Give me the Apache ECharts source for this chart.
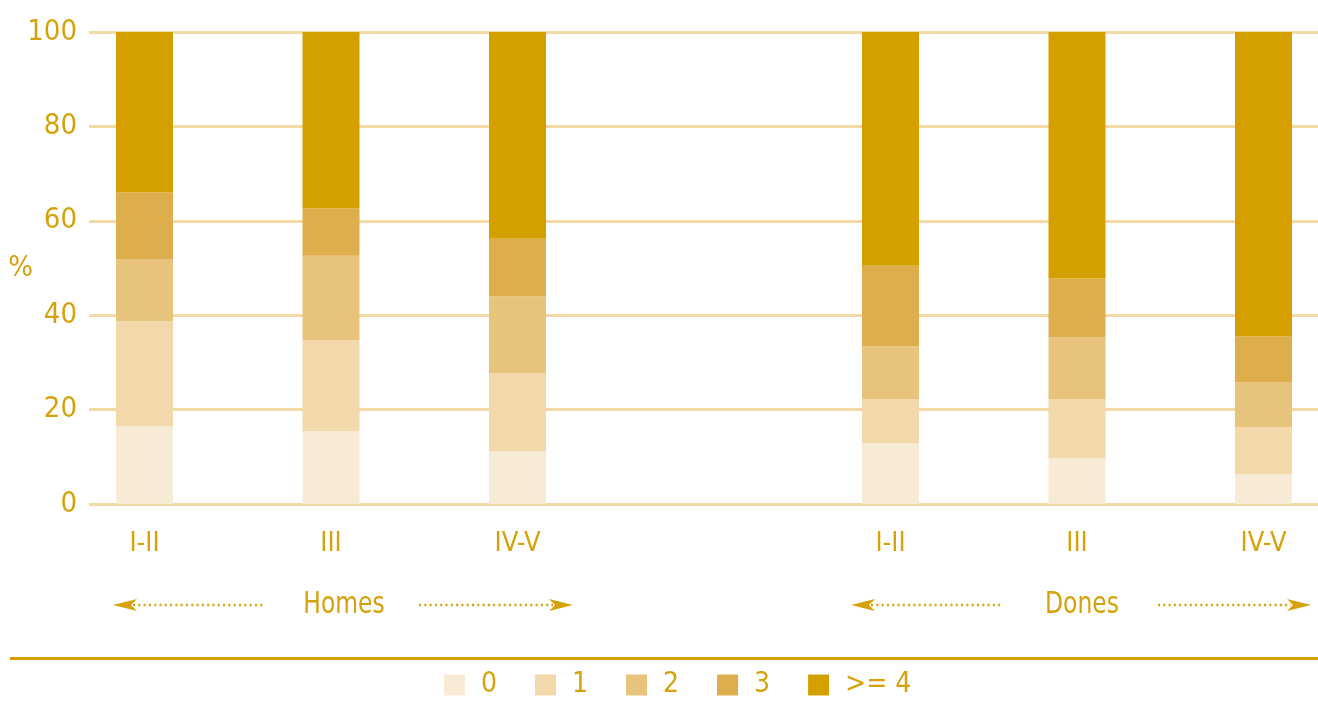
<!DOCTYPE html>
<html>
<head>
<meta charset="utf-8">
<script src="https://cdn.jsdelivr.net/npm/echarts@6/dist/echarts.min.js"></script>
<style>
html,body{margin:0;padding:0;background:#fff;}
#c{width:1318px;height:702px;}
</style>
</head>
<body>
<div id="c"></div>
<script>
// ---- data ----
const categories = ['I-II', 'III', 'IV-V', '', 'I-II', 'III', 'IV-V'];
const groupLabels = ['Homes', 'Dones'];
const seriesNames = ['0', '1', '2', '3', '>= 4'];
const s0 = [16.5, 15.4, 11.2, null, 12.9, 9.7, 6.3];
const s1 = [22.2, 19.3, 16.5, null, 9.3, 12.5, 10.0];
const s2 = [13.1, 17.9, 16.3, null, 11.2, 13.1, 9.5];
const s3 = [14.2, 10.0, 12.2, null, 17.1, 12.5, 9.7];
const s4 = [34.0, 37.4, 43.8, null, 49.5, 52.2, 64.5];
const yTicks = [0, 20, 40, 60, 80, 100];

const seriesValues = [s0, s1, s2, s3, s4];
const colors = ['#f7ebd6', '#f2d8aa', '#e8c37c', '#dfae4c', '#d4a000'];
const gold = '#d6a20c';
const FONT = '"DejaVu Sans Condensed", "Liberation Sans Narrow", "Liberation Sans", sans-serif';

const chart = echarts.init(document.getElementById('c'), null, {renderer: 'canvas'});

function arrowGroup(tipL, endL, textX, startR, tipR, y, label) {
  const els = [];
  els.push({type: 'polygon', shape: {points: [[tipL, y], [tipL + 24, y - 6], [tipL + 18, y], [tipL + 24, y + 6]]}, style: {fill: gold}});
  els.push({type: 'line', shape: {x1: tipL + 20, y1: y, x2: endL, y2: y}, style: {stroke: gold, lineWidth: 2.5, lineDash: [2, 3.3]}});
  els.push({type: 'text', x: textX, y: y, scaleX: 0.84, style: {text: label, fill: gold, font: '31px ' + FONT, textAlign: 'center', textVerticalAlign: 'middle'}});
  els.push({type: 'line', shape: {x1: startR, y1: y, x2: tipR - 20, y2: y}, style: {stroke: gold, lineWidth: 2.5, lineDash: [2, 3.3]}});
  els.push({type: 'polygon', shape: {points: [[tipR, y], [tipR - 24, y - 6], [tipR - 18, y], [tipR - 24, y + 6]]}, style: {fill: gold}});
  return els;
}

const graphics = []
  .concat(arrowGroup(113, 265, 344, 419, 573, 605, groupLabels[0]))
  .concat(arrowGroup(851, 1003, 1082, 1158, 1311, 605, groupLabels[1]));
graphics.push({type: 'rect', shape: {x: 10, y: 657, width: 1308, height: 3}, style: {fill: '#d4a000'}});

const option = {
  animation: false,
  backgroundColor: '#ffffff',
  textStyle: {fontFamily: FONT},
  grid: [
    {left: 89, right: 0, top: 32, bottom: 198, containLabel: false},
    {left: 144.5, right: 54.5, top: 32, bottom: 198, containLabel: false}
  ],
  xAxis: [
    {gridIndex: 0, type: 'category', data: ['x'], show: false},
    {
      gridIndex: 1, type: 'category', data: categories, boundaryGap: false,
      axisLine: {show: false}, axisTick: {show: false}, splitLine: {show: false},
      axisLabel: {color: gold, fontSize: 27, fontFamily: FONT, margin: 26, interval: 0}
    }
  ],
  yAxis: [
    {
      gridIndex: 0, type: 'value', min: 0, max: 100, interval: 20,
      axisLine: {show: false}, axisTick: {show: false},
      axisLabel: {color: gold, fontSize: 29, fontFamily: FONT, margin: 12,
        formatter: v => yTicks.indexOf(v) >= 0 ? String(v) : ''},
      splitLine: {show: true, lineStyle: {color: '#f2d9a6', width: 3}},
      name: '%', nameLocation: 'middle', nameRotate: 0, nameGap: 56,
      nameMoveOverlap: false,
      nameTextStyle: {color: gold, fontSize: 29, fontFamily: FONT}
    },
    {gridIndex: 1, type: 'value', min: 0, max: 100, show: false, splitLine: {show: false}}
  ],
  legend: {
    left: 439, top: 666,
    itemWidth: 21, itemHeight: 21, itemGap: 38,
    icon: 'rect',
    data: seriesNames,
    textStyle: {color: gold, fontSize: 28, fontFamily: FONT, padding: [0, 0, 0, 11]}
  },
  series: seriesValues.map((vals, i) => ({
    name: seriesNames[i],
    type: 'bar',
    stack: 'total',
    xAxisIndex: 1, yAxisIndex: 1,
    barWidth: 57,
    itemStyle: {color: colors[i]},
    data: vals.map(v => v === null ? '-' : v)
  })),
  graphic: graphics
};
chart.setOption(option);
</script>
</body>
</html>
